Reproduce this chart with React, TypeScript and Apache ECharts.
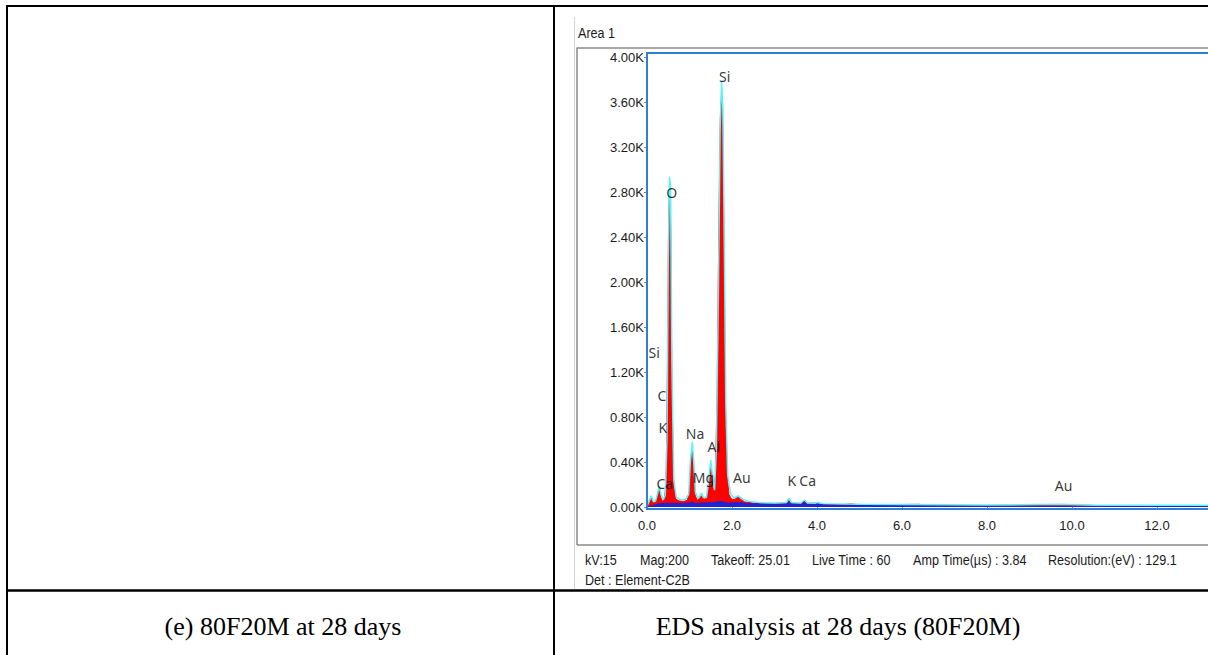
import React, { useEffect, useRef } from "react";
import * as echarts from "echarts";

// Measured counts (keV, counts) of the acquired spectrum, filled in red
const measuredSpectrum: [number, number][] = [
  [0.0, 0], [0.05, 30], [0.1, 92], [0.13, 40], [0.18, 35], [0.23, 80], [0.27, 150], [0.29, 160],
  [0.32, 90], [0.36, 50], [0.41, 70], [0.45, 220], [0.48, 1200], [0.51, 2600], [0.535, 2870],
  [0.56, 2450], [0.59, 850], [0.63, 180], [0.68, 70], [0.75, 55], [0.85, 50], [0.95, 60],
  [1.0, 150], [1.03, 420], [1.065, 533], [1.09, 380], [1.13, 110], [1.18, 60], [1.24, 80],
  [1.28, 100], [1.31, 75], [1.37, 70], [1.43, 130], [1.47, 300], [1.5, 373], [1.53, 250],
  [1.57, 130], [1.61, 280], [1.65, 1000], [1.69, 2500], [1.725, 3450], [1.755, 3680], [1.785, 3350],
  [1.815, 2200], [1.845, 900], [1.88, 300], [1.93, 110], [1.99, 70], [2.05, 65], [2.1, 85],
  [2.15, 90], [2.2, 70], [2.3, 45], [2.5, 35], [2.8, 30], [3.1, 28], [3.27, 30], [3.34, 60],
  [3.4, 30], [3.62, 28], [3.7, 55], [3.77, 28], [3.95, 25], [4.02, 30], [4.1, 22], [4.6, 20],
  [4.8, 28], [5.0, 18], [5.6, 16], [6.0, 22], [6.4, 24], [6.6, 15], [7.5, 12], [8.5, 10],
  [9.7, 14], [10.5, 8], [12.0, 7], [13.2, 6],
];

// Overlay trace (cyan outline)
const overlayTrace: [number, number][] = [
  [0.0, 10], [0.05, 50], [0.1, 100], [0.14, 55], [0.2, 50], [0.25, 120], [0.29, 185], [0.33, 110],
  [0.38, 65], [0.43, 100], [0.47, 600], [0.5, 2200], [0.53, 2935], [0.555, 2850], [0.585, 1300],
  [0.63, 240], [0.69, 85], [0.78, 65], [0.9, 65], [0.98, 110], [1.02, 400], [1.065, 580],
  [1.1, 400], [1.14, 130], [1.2, 75], [1.28, 124], [1.33, 85], [1.4, 85], [1.45, 230], [1.5, 418],
  [1.54, 280], [1.59, 150], [1.63, 500], [1.68, 1900], [1.72, 3350], [1.755, 3780], [1.785, 3550],
  [1.82, 2300], [1.855, 900], [1.9, 280], [1.97, 110], [2.05, 80], [2.15, 100], [2.25, 70],
  [2.4, 50], [2.7, 38], [3.0, 35], [3.28, 40], [3.34, 77], [3.4, 40], [3.62, 35], [3.7, 62],
  [3.78, 35], [4.02, 40], [4.15, 30], [5.0, 25], [6.0, 22], [7.0, 20], [8.0, 18], [9.7, 25],
  [10.5, 18], [12.0, 15], [13.2, 15],
];

// Background fit (dark blue)
const backgroundFit: [number, number][] = [
  [0.0, 0], [0.1, 10], [0.2, 20], [0.3, 30], [0.5, 33], [0.8, 32], [1.0, 35], [1.06, 45],
  [1.12, 32], [1.5, 38], [1.75, 50], [1.9, 34], [2.15, 40], [2.4, 30], [3.0, 24], [3.28, 26],
  [3.34, 50], [3.4, 26], [3.64, 24], [3.7, 45], [3.76, 24], [3.96, 22], [4.02, 38], [4.08, 20],
  [5.0, 14], [7.0, 10], [10.0, 6], [13.2, 4],
];

// Element identifiers: label text, energy (keV), label height (counts)
const elementLabels: [string, number, number][] = [
  ["Si", 1.83, 3830],
  ["O", 0.58, 2800],
  ["Si", 0.17, 1369],
  ["C", 0.35, 990],
  ["K", 0.37, 705],
  ["Ca", 0.42, 213],
  ["Na", 1.13, 649],
  ["Mg", 1.33, 258],
  ["Al", 1.57, 542],
  ["Au", 2.23, 258],
  ["K", 3.41, 240],
  ["Ca", 3.78, 240],
  ["Au", 9.8, 187],
];

const energyMin = 0;
const energyMax = 13.2;
const energyStep = 2;
const countsMin = 0;
const countsMax = 4000;
const countsStep = 400;

const acquisitionInfo: [string, number][] = [
  ["kV:15", 585],
  ["Mag:200", 640],
  ["Takeoff: 25.01", 711],
  ["Live Time : 60", 812],
  ["Amp Time(µs) : 3.84", 913],
  ["Resolution:(eV) : 129.1", 1048],
];
const detectorInfo = "Det : Element-C2B";
const areaTitle = "Area 1";
const captionLeft = "(e) 80F20M at 28 days";
const captionRight = "EDS analysis at 28 days (80F20M)";

const SANS = "'Liberation Sans', Arial, sans-serif";
const SERIF = "'Liberation Serif', 'Times New Roman', serif";

export default function App() {
  const ref = useRef<HTMLDivElement>(null);

  useEffect(() => {
    if (!ref.current) return;
    const chart = echarts.init(ref.current, undefined, { renderer: "svg" });

    const line = (x1: number, y1: number, x2: number, y2: number, stroke: string, lineWidth: number, z = 100) => ({
      type: "line",
      z,
      shape: { x1, y1, x2, y2 },
      style: { stroke, lineWidth },
      silent: true,
    });

    // condensed instrument-panel text (horizontally squeezed sans)
    const panelText = (t: string, x: number, y: number) => ({
      type: "text",
      x,
      y,
      z: 100,
      scaleX: 0.84,
      style: {
        text: t,
        fill: "#1a1a1a",
        font: `15px ${SANS}`,
        textVerticalAlign: "middle",
      },
    });

    const caption = (t: string, x: number, y: number) => ({
      type: "text",
      x,
      y,
      z: 100,
      style: {
        text: t,
        fill: "#000",
        font: `26px ${SERIF}`,
        textAlign: "center",
        textVerticalAlign: "middle",
      },
    });

    chart.setOption({
      animation: false,
      backgroundColor: "#ffffff",
      grid: { left: 647, right: 0, top: 57, bottom: 148, containLabel: false },
      xAxis: {
        type: "value",
        min: energyMin,
        max: energyMax,
        interval: energyStep,
        axisLine: { show: false },
        axisTick: { show: true, length: 3, lineStyle: { color: "#999" } },
        splitLine: { show: false },
        axisLabel: {
          showMaxLabel: false,
          margin: 12,
          fontSize: 13,
          fontFamily: SANS,
          color: "#1a1a1a",
          formatter: (v: number) => v.toFixed(1),
        },
      },
      yAxis: {
        type: "value",
        min: countsMin,
        max: countsMax,
        interval: countsStep,
        axisLine: { show: false },
        axisTick: { show: true, length: 3, lineStyle: { color: "#888" } },
        splitLine: { show: false },
        axisLabel: {
          margin: 3,
          fontSize: 13,
          fontFamily: SANS,
          color: "#1a1a1a",
          formatter: (v: number) => (v / 1000).toFixed(2) + "K",
        },
      },
      series: [
        {
          type: "line",
          data: measuredSpectrum,
          symbol: "none",
          lineStyle: { color: "#ff0000", width: 1 },
          areaStyle: { color: "#ff0000", opacity: 1 },
          z: 2,
        },
        {
          type: "line",
          data: backgroundFit,
          symbol: "none",
          lineStyle: { color: "#2222d0", width: 1 },
          areaStyle: { color: "#2222d0", opacity: 1 },
          z: 3,
        },
        {
          type: "line",
          data: overlayTrace,
          symbol: "none",
          lineStyle: { color: "#5ef2f6", width: 1.5 },
          z: 4,
        },
        {
          type: "scatter",
          symbolSize: 0,
          data: elementLabels.map(([name, e, c]) => ({ name, value: [e, c] })),
          label: {
            show: true,
            position: "inside",
            formatter: (p: any) => p.name,
            fontFamily: "'Noto Sans', 'Open Sans', sans-serif",
            fontSize: 14,
            color: "#000",
          },
          z: 5,
        },
      ],
      graphic: [
        // table rules
        line(7, 6, 1208, 6, "#000", 2),
        line(7, 5, 7, 655, "#000", 2),
        line(554, 5, 554, 655, "#000", 2),
        line(7, 590.5, 1208, 590.5, "#000", 2.5),
        // screenshot edge
        line(574.5, 17, 574.5, 589, "#d6d6d6", 1),
        // outer grey frame
        line(577, 48, 1208, 48, "#8a8a8a", 1.5),
        line(577, 47.5, 577, 545, "#8a8a8a", 1.5),
        line(577, 545, 1208, 545, "#8a8a8a", 1.5),
        // plot frame
        line(647, 53, 1208, 53, "#2f7fd3", 2),
        line(647, 52, 647, 510, "#2f7fd3", 2),
        line(647, 509, 1208, 509, "#2f7fd3", 2),
        panelText(areaTitle, 578, 33),
        ...acquisitionInfo.map(([t, x]) => panelText(t, x, 560)),
        panelText(detectorInfo, 585, 580),
        caption(captionLeft, 283, 626),
        caption(captionRight, 838, 626),
      ],
    });

    return () => chart.dispose();
  }, []);

  return (
    <div
      ref={ref}
      style={{ position: "fixed", left: 0, top: 0, width: 1208, height: 655 }}
    />
  );
}
